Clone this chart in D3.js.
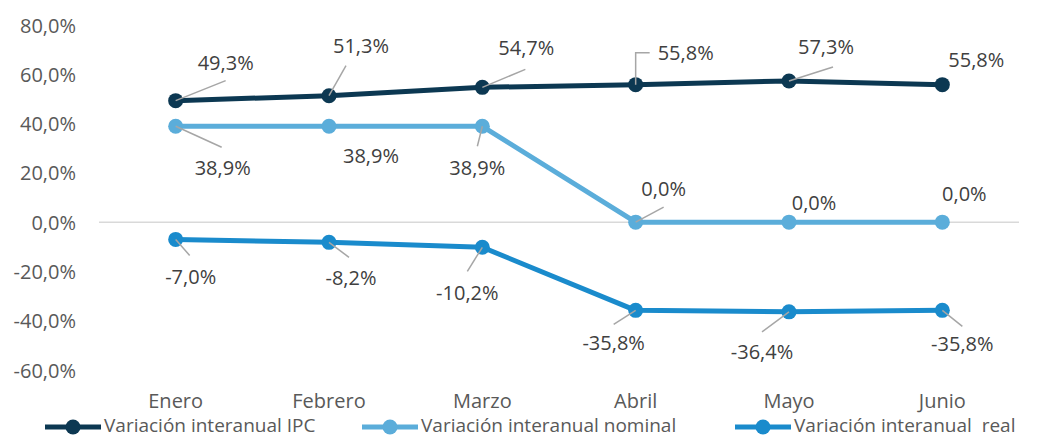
<!DOCTYPE html>
<html>
<head>
<meta charset="utf-8">
<script src="https://cdn.jsdelivr.net/npm/d3@7"></script>
<style>
  body { margin: 0; background: #fff; }
  svg { display: block; font-family: "Open Sans", sans-serif; }
  text { white-space: pre; }
</style>
</head>
<body>
<script>
const width = 1041;
const height = 436;

// Data
const months = ["Enero", "Febrero", "Marzo", "Abril", "Mayo", "Junio"];
const ipc     = [49.3, 51.3, 54.7, 55.8, 57.3, 55.8];
const nominal = [38.9, 38.9, 38.9, 0.0, 0.0, 0.0];
const real    = [-7.0, -8.2, -10.2, -35.8, -36.4, -35.8];
const yTicks  = [80, 60, 40, 20, 0, -20, -40, -60];

const seriesNames = ["Variación interanual IPC", "Variación interanual nominal", "Variación interanual  real"];
const seriesColors = ["#0c3852", "#5badda", "#1a8bcc"];

// label placement (px offsets from the point): [labelDx, labelDy, leader points]
const ipcLabels = [
  [50, -38, [[50, -20]]],
  [32, -50, [[17, -30]]],
  [44, -40, [[43, -18]]],
  [50, -32, [[0, -32], [14, -32]]],
  [37, -34, [[44, -14]]],
  [34, -25, []]
];
const nominalLabels = [
  [47, 41, [[46, 21]]],
  [42, 29, []],
  [-5, 41, [[-5, 20]]],
  [28, -34, [[28, -15]]],
  [25, -20, []],
  [22, -29, []]
];
const realLabels = [
  [15, 37, [[14, 16]]],
  [22, 35, [[20, 15]]],
  [-15, 45, [[-15, 24]]],
  [-22, 32, [[-22, 14]]],
  [-27, 40, [[-27, 20]]],
  [20, 33, [[20, 16]]]
];

const svg = d3.select("body").append("svg")
  .attr("width", width)
  .attr("height", height);

const x = d3.scaleBand().domain(months).range([99, 1019]);
const y = d3.scaleLinear().domain([-60, 80]).range([370, 25]);
const cx = m => x(m) + x.bandwidth() / 2;

// excel style: comma decimal, plain hyphen for negatives
const fmt = v => (v < 0 ? "-" : "") + Math.abs(v).toFixed(1).replace(".", ",") + "%";

// y axis labels
svg.append("g").selectAll("text")
  .data(yTicks)
  .join("text")
  .attr("x", 76)
  .attr("y", d => y(d))
  .attr("text-anchor", "end")
  .attr("dominant-baseline", "central")
  .attr("font-size", 20)
  .attr("fill", "#595959")
  .text(d => fmt(d));

// zero line
svg.append("line")
  .attr("x1", 99).attr("x2", 1019)
  .attr("y1", y(0)).attr("y2", y(0))
  .attr("stroke", "#d9d9d9")
  .attr("stroke-width", 1.5);

// x axis labels
svg.append("g").selectAll("text")
  .data(months)
  .join("text")
  .attr("x", d => cx(d))
  .attr("y", 400)
  .attr("text-anchor", "middle")
  .attr("dominant-baseline", "central")
  .attr("font-size", 20)
  .attr("fill", "#595959")
  .text(d => d);

const line = d3.line()
  .x((d, i) => cx(months[i]))
  .y(d => y(d));

const allSeries = [ipc, nominal, real];
const allLabels = [ipcLabels, nominalLabels, realLabels];

// lines + markers
allSeries.forEach((vals, s) => {
  const g = svg.append("g");
  g.append("path")
    .datum(vals)
    .attr("d", line)
    .attr("fill", "none")
    .attr("stroke", seriesColors[s])
    .attr("stroke-width", 5)
    .attr("stroke-linejoin", "round");

  g.selectAll("circle")
    .data(vals)
    .join("circle")
    .attr("cx", (d, i) => cx(months[i]))
    .attr("cy", d => y(d))
    .attr("r", 7.5)
    .attr("fill", seriesColors[s]);
});

// data labels with leader lines
allSeries.forEach((vals, s) => {
  const g = svg.append("g");
  vals.forEach((v, i) => {
    const [ldx, ldy, pts] = allLabels[s][i];
    const px = cx(months[i]), py = y(v);
    if (pts.length) {
      const coords = [[px, py]].concat(pts.map(p => [px + p[0], py + p[1]]));
      g.append("path")
        .attr("d", d3.line()(coords))
        .attr("fill", "none")
        .attr("stroke", "#a6a6a6")
        .attr("stroke-width", 1.5);
    }
    g.append("text")
      .attr("x", px + ldx)
      .attr("y", py + ldy)
      .attr("text-anchor", "middle")
      .attr("dominant-baseline", "central")
      .attr("font-size", 20)
      .attr("fill", "#404040")
      .text(fmt(v));
  });
});

// legend
const legendX = [45, 362, 735];
const legend = svg.append("g");
seriesNames.forEach((name, s) => {
  const lx = legendX[s];
  const ly = 427;
  legend.append("line")
    .attr("x1", lx).attr("x2", lx + 56)
    .attr("y1", ly).attr("y2", ly)
    .attr("stroke", seriesColors[s])
    .attr("stroke-width", 5);
  legend.append("circle")
    .attr("cx", lx + 28).attr("cy", ly)
    .attr("r", 7.5)
    .attr("fill", seriesColors[s]);
  legend.append("text")
    .attr("x", lx + 59)
    .attr("y", 425)
    .attr("dominant-baseline", "central")
    .attr("font-size", 19)
    .attr("fill", "#595959")
    .text(name);
});
</script>
</body>
</html>
